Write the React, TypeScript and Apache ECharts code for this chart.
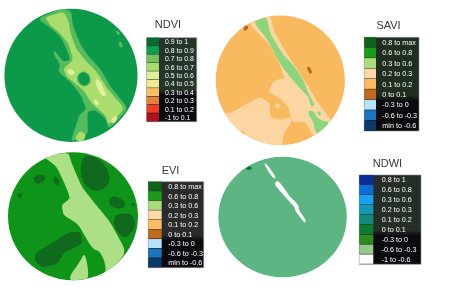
import React, { useEffect, useRef } from "react";
import * as echarts from "echarts";

type Pt = [number, number];
type Region = { c: string; p: Pt[] };

const G_NDVI = "#0c9a4a", G_MID = "#55bb5c", G_LIGHT = "#abdd6e", G_PALE = "#e2ef9c";
const ndviRegions: Region[] = [
  { c: G_MID, p: [[112,55],[190,25],[214,35],[218,75],[240,130],[262,165],[300,205],[335,265],[385,325],[345,370],[325,385],[316,355],[285,330],[262,335],[264,405],[212,425],[225,385],[238,345],[258,328],[245,290],[215,250],[175,215],[180,195],[160,160],[165,153],[190,185],[210,180],[205,160],[185,115],[160,90]] },
  { c: G_LIGHT, p: [[135,52],[190,35],[205,60],[212,100],[228,145],[255,180],[290,215],[325,270],[374,325],[340,362],[325,372],[315,345],[275,310],[250,270],[200,230],[190,205],[220,180],[205,130],[175,95],[150,75]] },
  { c: G_LIGHT, p: [[222,420],[240,390],[258,405],[250,425]] },
  { c: G_MID, p: [[230,226],[250,211],[272,226],[272,252],[250,262],[232,248]] },
  { c: G_NDVI, p: [[234,226],[250,214],[268,227],[268,250],[250,258],[236,246]] },
  { c: G_PALE, p: [[198,211],[216,206],[226,221],[211,228]] },
  { c: G_PALE, p: [[284,236],[299,240],[314,272],[320,290],[304,287],[291,263]] },
  { c: G_PALE, p: [[280,296],[293,300],[298,316],[285,314]] },
  { c: G_PALE, p: [[330,364],[345,346],[354,352],[342,372]] },
  { c: G_MID, p: [[357,124],[367,127],[368,143],[357,141]] },
  { c: G_MID, p: [[344,90],[362,98],[355,108]] },
];

const S_PALE = "#fbd6a2", S_GREEN = "#8bd67c", S_BROWN = "#c4651f", S_ORANGE = "#f9b95f";
const saviRegions: Region[] = [
  { c: S_PALE, p: [[72,68],[135,45],[150,100],[185,160],[215,205],[250,260],[280,310],[325,368],[275,425],[255,390],[240,365],[200,365],[190,320],[165,295],[130,275],[145,245],[170,235],[180,238],[155,170],[130,130],[100,100]] },
  { c: S_PALE, p: [[-20,345],[20,337],[60,315],[105,290],[135,310],[135,350],[165,360],[195,350],[200,365],[175,400],[170,445],[-20,445]] },
  { c: S_ORANGE, p: [[30,395],[50,390],[64,402],[45,412]] },
  { c: S_PALE, p: [[148,315],[158,308],[167,318],[157,327]] },
  { c: S_GREEN, p: [[85,66],[125,50],[135,100],[175,165],[205,195],[235,240],[250,280],[270,315],[258,320],[250,290],[225,265],[190,225],[165,190],[125,115]] },
  { c: S_GREEN, p: [[245,335],[265,330],[280,360],[318,365],[285,405],[270,395],[265,365]] },
  { c: S_GREEN, p: [[277,334],[286,334],[288,346],[279,346]] },
  { c: S_BROWN, p: [[53,82],[67,75],[71,84],[60,95]] },
  { c: S_BROWN, p: [[244,202],[253,199],[263,218],[254,223]] },
];

const E_LIGHT = "#addf87", E_GREEN = "#0f941a", E_DARK = "#0f6a1e";
const eviRegions: Region[] = [
  { c: E_LIGHT, p: [[130,35],[205,22],[215,55],[245,125],[280,170],[330,230],[380,322],[318,392],[300,330],[270,300],[235,238],[190,210],[185,180],[210,160],[200,130],[170,65]] },
  { c: E_LIGHT, p: [[200,405],[240,350],[255,320],[268,395],[250,415]] },
  { c: E_GREEN, p: [[262,318],[295,312],[315,350],[318,388],[275,398],[268,360]] },
  { c: E_DARK, p: [[252,28],[302,42],[332,90],[322,127],[280,142],[248,112],[240,70]] },
  { c: E_DARK, p: [[98,95],[132,86],[137,106],[108,120]] },
  { c: E_DARK, p: [[163,92],[182,108],[174,124],[158,108]] },
  { c: E_DARK, p: [[53,147],[67,143],[64,160],[52,157]] },
  { c: E_DARK, p: [[328,160],[346,151],[382,175],[360,194],[328,182]] },
  { c: E_DARK, p: [[390,174],[406,175],[401,186]] },
  { c: E_DARK, p: [[342,208],[397,203],[408,245],[376,285],[342,250]] },
  { c: E_DARK, p: [[105,325],[165,288],[210,260],[242,262],[247,297],[192,322],[172,357],[125,368],[105,347]] },
];

const ndwiRegions: Region[] = [
  { c: "#ffffff", p: [[116,56],[124,55],[152,95],[150,101],[140,95]] },
  { c: "#ffffff", p: [[152,110],[160,108],[178,130],[192,152],[220,180],[222,195],[244,228],[238,233],[212,200],[208,185],[175,150],[150,120]] },
  { c: "#0a7a30", p: [[62,70],[76,62],[82,72],[68,76]] },
];

const ndviLabels = ["0.9 to 1","0.8 to 0.9","0.7 to 0.8","0.6 to 0.7","0.5 to 0.6","0.4 to 0.5","0.3 to 0.4","0.2 to 0.3","0.1 to 0.2","-1 to 0.1"];
const ndviColors = ["#0b6a30","#0b9e4c","#74c05c","#a9dc6a","#dcef9a","#efe992","#fbbf63","#e6803f","#ee3d24","#b00f1e"];
const indexLabels = ["0.8 to max","0.6 to 0.8","0.3 to 0.6","0.2 to 0.3","0.1 to 0.2","0 to 0.1","-0.3 to 0","-0.6 to -0.3","min to -0.6"];
const indexColors = ["#0f621a","#1c9a1a","#a9dc7c","#fdd9a8","#fbbb60","#c06a1f","#b5e2f8","#1c74be","#0c3a68"];
const ndwiLabels = ["0.8 to 1","0.6 to 0.8","0.3 to 0.6","0.2 to 0.3","0.1 to 0.2","0 to 0.1","-0.3 to 0","-0.6 to -0.3","-1 to -0.6"];
const ndwiColors = ["#0a2c9a","#0a6ed8","#12a2ee","#0f9bb8","#12897a","#0b7c32","#2e8c1e","#93c98c","#ffffff"];

// Layout, in window pixels.
const panels = [
  { name: "NDVI", regions: ndviRegions, labels: ndviLabels, colors: ndviColors, base: G_NDVI,
    crop: [0,0,225,145], disk: [71,75.3,66.6,66.6], title: [168,24], box: [146.7,37.7,196.7,121.7], swatchEnd: 159, textX: 165, top: "#26352a", font: 6.9 },
  { name: "SAVI", regions: saviRegions, labels: indexLabels, colors: indexColors, base: S_ORANGE,
    crop: [225,0,225,145], disk: [280.3,80.3,64.6,64.8], title: [388.5,25], box: [364.3,37.3,419,131], swatchEnd: 376, textX: 382.3, top: "#1f2e20", font: 7.2 },
  { name: "EVI", regions: eviRegions, labels: indexLabels, colors: indexColors, base: E_GREEN,
    crop: [0,145,225,142], disk: [73,216.2,65,64], title: [170.5,169.5], box: [148.3,181.7,203.7,267.7], swatchEnd: 161.7, textX: 168.3, top: "#2b2b2d", font: 7.2 },
  { name: "NDWI", regions: ndwiRegions, labels: ndwiLabels, colors: ndwiColors, base: "#5db584",
    crop: [225,145,225,142], disk: [282.6,217,64.2,60.2], title: [387.5,162.5], box: [359.3,175,421,264.3], swatchEnd: 373.3, textX: 381.7, top: "#262e28", font: 7.2 },
];

function rounded(pts: Pt[]): Pt[] {
  const w = pts.length <= 8 ? 0.24 : 0.14;
  let out = pts;
  for (let k = 0; k < 3; k++) {
    const next: Pt[] = [];
    out.forEach((a, i) => {
      const b = out[(i + 1) % out.length];
      next.push([a[0] * (1 - w) + b[0] * w, a[1] * (1 - w) + b[1] * w]);
      next.push([a[0] * w + b[0] * (1 - w), a[1] * w + b[1] * (1 - w)]);
    });
    out = next;
  }
  return out;
}

function fitToDisk(pts: Pt[], d: number[]): Pt[] {
  const fine: Pt[] = [];
  pts.forEach((a, i) => {
    const b = pts[(i + 1) % pts.length];
    const n = Math.max(1, Math.ceil(Math.hypot(b[0] - a[0], b[1] - a[1]) / 3));
    for (let j = 0; j < n; j++) fine.push([a[0] + ((b[0] - a[0]) * j) / n, a[1] + ((b[1] - a[1]) * j) / n]);
  });
  return fine.map(([x, y]) => {
    const ex = (x - d[0]) / d[2], ey = (y - d[1]) / d[3];
    const r = Math.hypot(ex, ey);
    return r <= 1 ? ([x, y] as Pt) : ([d[0] + (ex / r) * d[2], d[1] + (ey / r) * d[3]] as Pt);
  });
}

function buildOption() {
  const grid = panels.map((p) => ({ left: p.crop[0], top: p.crop[1], width: p.crop[2], height: p.crop[3], show: false }));
  const xAxis = panels.map((p, i) => ({ type: "value", gridIndex: i, min: 0, max: p.crop[2] * 3, show: false }));
  const yAxis = panels.map((p, i) => ({ type: "value", gridIndex: i, min: 0, max: p.crop[3] * 3, inverse: true, show: false }));
  const series: any[] = [];
  panels.forEach((panel, i) => {
    series.push({
      type: "custom", xAxisIndex: i, yAxisIndex: i, coordinateSystem: "cartesian2d", silent: true, clip: false,
      data: panel.regions.map((_, k) => [k]),
      renderItem: (params: any, api: any) => {
        const r = panel.regions[params.dataIndex];
        const px = r.p.map((q) => api.coord(q) as Pt);
        const points = fitToDisk(rounded(px), panel.disk);
        const poly = { type: "polygon", shape: { points }, style: { fill: r.c } };
        if (params.dataIndex === 0) {
          return { type: "group", children: [
            { type: "ellipse", shape: { cx: panel.disk[0], cy: panel.disk[1], rx: panel.disk[2], ry: panel.disk[3] }, style: { fill: panel.base } },
            poly,
          ] };
        }
        return poly;
      },
    });
    const [bx0, by0, bx1, by1] = panel.box;
    const rowH = (by1 - by0) / panel.labels.length;
    series.push({
      type: "custom", xAxisIndex: i, yAxisIndex: i, coordinateSystem: "cartesian2d", silent: true, clip: false,
      data: panel.labels.map((l, k) => [k, l]),
      renderItem: (params: any) => {
        const k = params.dataIndex;
        const kids: any[] = [];
        if (k === 0) {
          kids.push({ type: "rect", shape: { x: bx0, y: by0, width: bx1 - bx0, height: by1 - by0 },
            style: { fill: { type: "linear", x: 0, y: 0, x2: 0, y2: 1, colorStops: [
              { offset: 0, color: panel.top }, { offset: 0.62, color: panel.top },
              { offset: 0.68, color: "#0b0b0f" }, { offset: 1, color: "#0b0b0f" } ] }, stroke: "#8d8d8d", lineWidth: 0.6 } });
        }
        kids.push({ type: "rect", shape: { x: bx0, y: by0 + k * rowH, width: panel.swatchEnd - bx0, height: rowH - 0.5 }, style: { fill: panel.colors[k] } });
        kids.push({ type: "text", x: panel.textX, y: by0 + (k + 0.5) * rowH,
          style: { text: panel.labels[k], fill: "#ffffff", fontSize: panel.font, fontFamily: "Liberation Sans", textAlign: "left", textVerticalAlign: "middle" } });
        return { type: "group", children: kids };
      },
    });
  });
  return {
    animation: false,
    backgroundColor: "#ffffff",
    grid, xAxis, yAxis, series,
    graphic: panels.map((p) => ({
      type: "text", x: p.title[0], y: p.title[1], z: 10,
      style: { text: p.name, fill: "#333a40", fontSize: 11, fontFamily: "Liberation Sans", textAlign: "center", textVerticalAlign: "middle" },
    })),
  };
}

export default function App() {
  const ref = useRef<HTMLDivElement>(null);
  useEffect(() => {
    const chart = echarts.init(ref.current!, null, { renderer: "svg" });
    chart.setOption(buildOption() as any);
    return () => chart.dispose();
  }, []);
  return <div ref={ref} style={{ position: "fixed", left: 0, top: 0, width: 450, height: 287, filter: "blur(0.45px)" }} />;
}
